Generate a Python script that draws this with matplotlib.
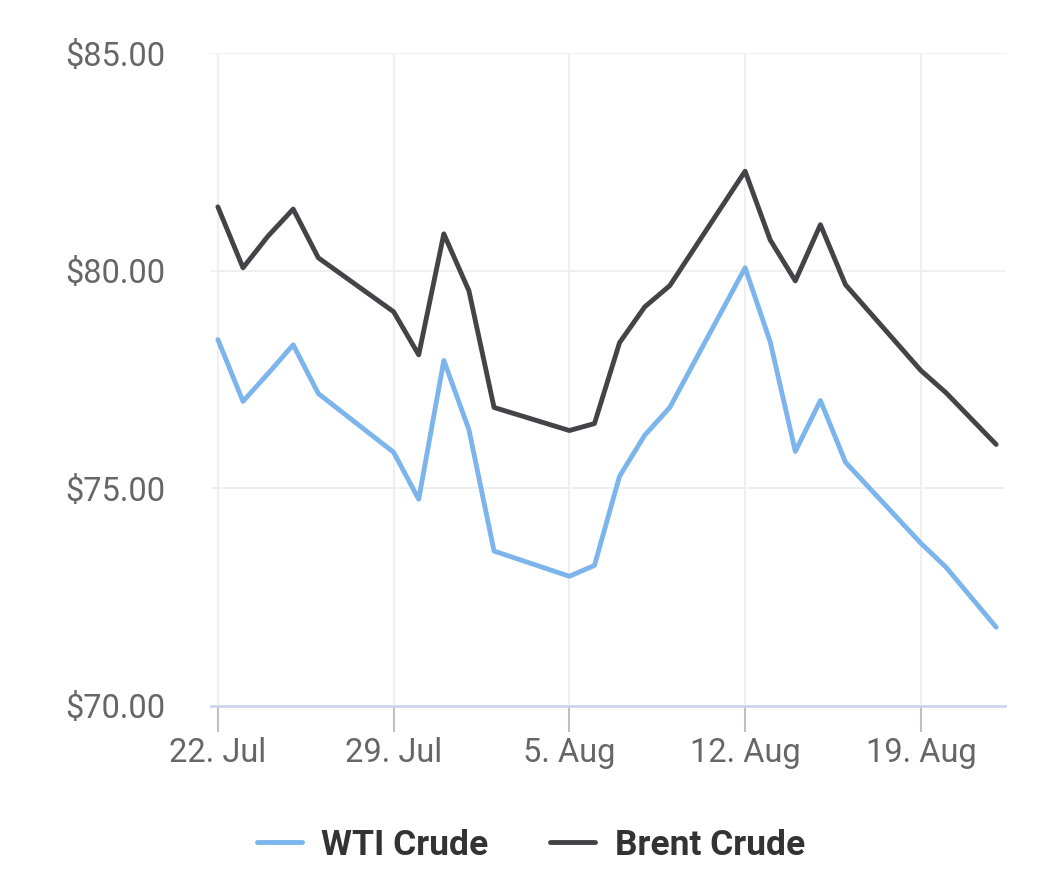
import matplotlib.pyplot as plt
import matplotlib.dates as mdates
import numpy as np

plt.rcParams["font.family"] = ["Roboto", "DejaVu Sans"]

dates = np.array([
    "2024-07-22", "2024-07-23", "2024-07-24", "2024-07-25", "2024-07-26",
    "2024-07-29", "2024-07-30", "2024-07-31", "2024-08-01", "2024-08-02",
    "2024-08-05", "2024-08-06", "2024-08-07", "2024-08-08", "2024-08-09",
    "2024-08-12", "2024-08-13", "2024-08-14", "2024-08-15", "2024-08-16",
    "2024-08-19", "2024-08-20", "2024-08-22",
], dtype="datetime64[D]")

wti = [78.42, 77.00, 77.64, 78.30, 77.18,
       75.83, 74.75, 77.94, 76.35, 73.56,
       72.98, 73.23, 75.28, 76.22, 76.86,
       80.07, 78.37, 75.85, 77.02, 75.60,
       73.74, 73.19, 71.81]

brent = [81.47, 80.07, 80.80, 81.42, 80.30,
         79.06, 78.07, 80.85, 79.54, 76.86,
         76.33, 76.49, 78.35, 79.17, 79.66,
         82.29, 80.71, 79.77, 81.06, 79.68,
         77.71, 77.20, 76.01]

y_ticks = [70, 75, 80, 85]
x_ticks = np.array(["2024-07-22", "2024-07-29", "2024-08-05",
                    "2024-08-12", "2024-08-19"], dtype="datetime64[D]")

fig = plt.figure(figsize=(10.49, 8.88), dpi=100)
ax = fig.add_axes([0.201, 0.205, 0.757, 0.735])

ax.plot(dates, wti, color="#7cb5ec", lw=3.5, solid_joinstyle="round",
        solid_capstyle="round", label="WTI Crude", zorder=3)
ax.plot(dates, brent, color="#434348", lw=3.5, solid_joinstyle="round",
        solid_capstyle="round", label="Brent Crude", zorder=3)

start = np.datetime64("2024-07-22")
ax.set_xlim(mdates.date2num(start) - 0.28, mdates.date2num(start) + 31.35)
ax.set_ylim(70, 85)

ax.set_yticks(y_ticks)
ax.set_yticklabels([f"${v:.2f}" for v in y_ticks])
ax.set_xticks(x_ticks)
ax.xaxis.set_major_formatter(mdates.DateFormatter("%-d. %b"))

ax.grid(True, color="#eeeeee", lw=1.3, zorder=0)
for s in ["top", "right", "left"]:
    ax.spines[s].set_visible(False)
ax.spines["bottom"].set_color("#ccd6eb")
ax.spines["bottom"].set_linewidth(2)

ax.tick_params(axis="y", length=0, pad=33, labelsize=23.5, labelcolor="#666666")
ax.tick_params(axis="x", length=19, width=1.5, color="#c0c0c0", pad=3,
               labelsize=23.5, labelcolor="#666666")

leg = fig.legend(loc="center", bbox_to_anchor=(0.506, 0.048), ncol=2,
                 frameon=False, handlelength=1.27, columnspacing=1.75,
                 handletextpad=0.55,
                 prop={"size": 25.5, "weight": "bold"})
for t in leg.get_texts():
    t.set_color("#333333")

fig.savefig("out.png", dpi=100)
